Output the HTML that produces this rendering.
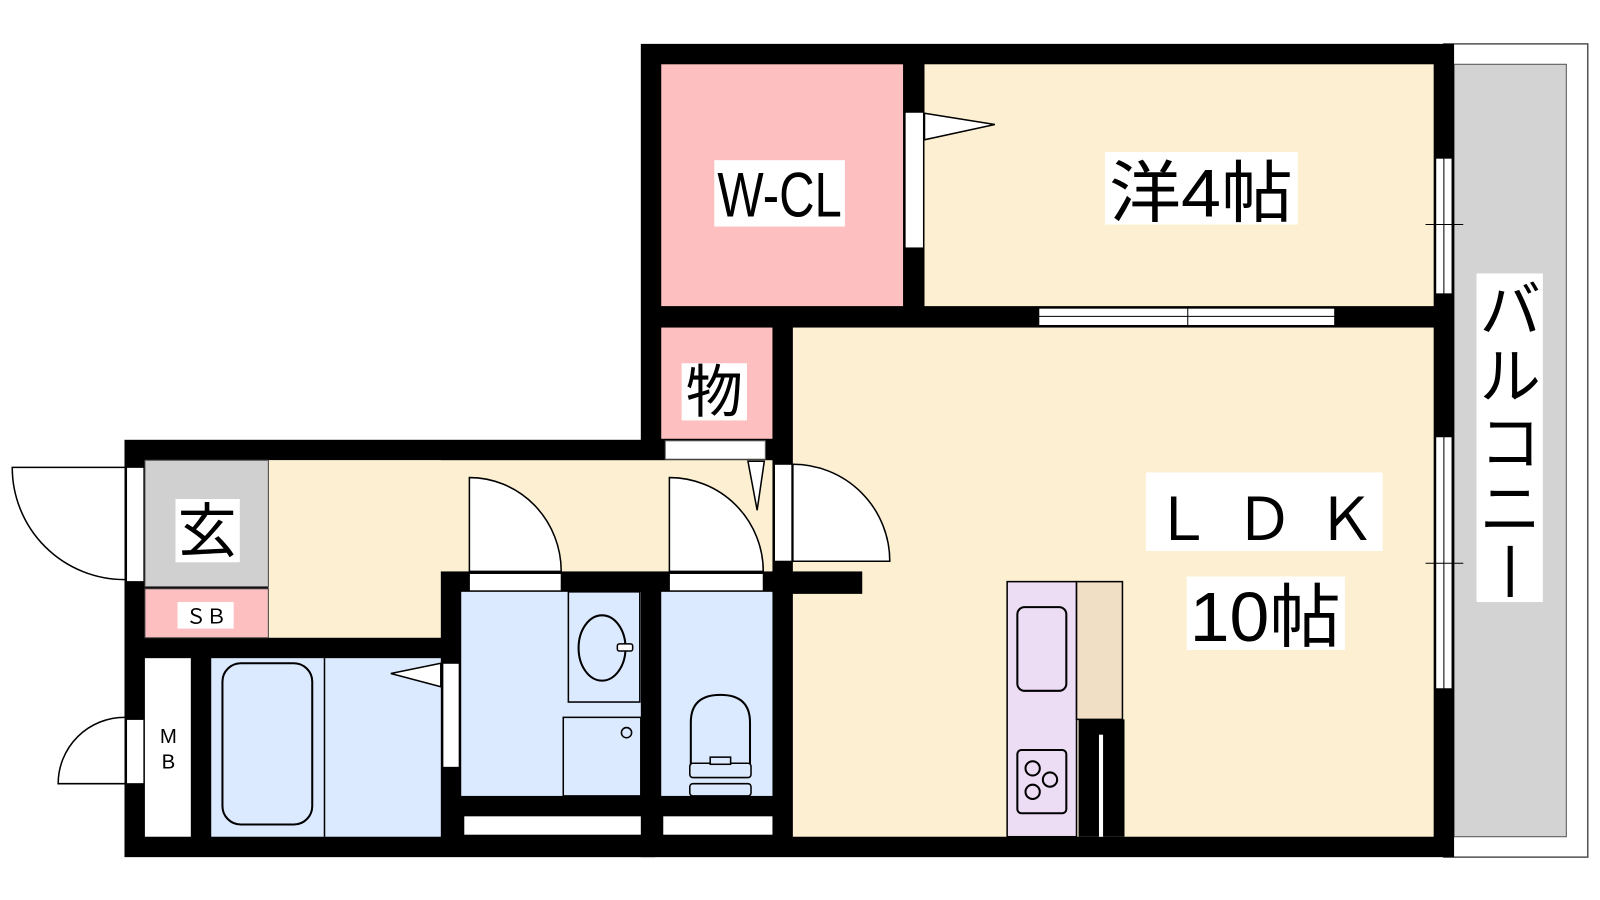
<!DOCTYPE html>
<html><head><meta charset="utf-8"><style>
html,body{margin:0;padding:0;background:#fff;}
svg{display:block}
text{font-family:"Liberation Sans","Noto Sans CJK JP",sans-serif;fill:#000}
</style></head><body>
<svg width="1600" height="900" viewBox="0 0 1568 882" preserveAspectRatio="none" xmlns="http://www.w3.org/2000/svg">
<!-- balcony -->
<rect x="1415" y="43" width="141" height="797" fill="#fff" stroke="#555" stroke-width="1.5"/>
<rect x="1425" y="63" width="110" height="757" fill="#d3d3d3" stroke="#555" stroke-width="1"/>
<!-- black wall base -->
<rect x="628" y="43" width="797" height="797" fill="#000"/>
<rect x="122" y="431" width="520" height="409" fill="#000"/>
<!-- rooms -->
<rect x="648" y="63" width="237" height="237" fill="#fdbfbf"/>
<rect x="906" y="63" width="499" height="237" fill="#fdf0d2"/>
<rect x="648" y="321" width="109" height="109" fill="#fdbfbf"/>
<rect x="777" y="321" width="628" height="499" fill="#fdf0d2"/>
<rect x="263" y="451" width="494" height="109" fill="#fdf0d2"/>
<rect x="263" y="451" width="169" height="174" fill="#fdf0d2"/>
<rect x="142" y="451" width="121" height="124" fill="#d0d0d0" stroke="#444" stroke-width="1"/>
<rect x="142" y="577" width="121" height="48" fill="#fdbfbf" stroke="#444" stroke-width="1"/>
<rect x="142" y="645" width="45" height="175" fill="#fff"/>
<rect x="207" y="645" width="225" height="175" fill="#dbeafe"/>
<line x1="318" y1="645" x2="318" y2="820" stroke="#000" stroke-width="1.5"/>
<rect x="218" y="650" width="88" height="158" rx="18" fill="none" stroke="#000" stroke-width="2"/>
<rect x="452" y="580" width="176" height="200" fill="#dbeafe"/>
<rect x="648" y="580" width="109" height="200" fill="#dbeafe"/>
<rect x="455" y="800" width="173" height="18" fill="#fff"/>
<rect x="650" y="800" width="107" height="18" fill="#fff"/>
<!-- wash fixtures -->
<rect x="557" y="580" width="70" height="108" fill="none" stroke="#000" stroke-width="1.5"/>
<ellipse cx="590" cy="635" rx="23" ry="32" fill="none" stroke="#000" stroke-width="2"/>
<rect x="605" y="631" width="15" height="7" rx="2" fill="#fff" stroke="#000" stroke-width="1.5"/>
<rect x="552" y="703" width="76" height="77" fill="none" stroke="#000" stroke-width="1.5"/>
<circle cx="614" cy="718" r="5" fill="none" stroke="#000" stroke-width="1.5"/>
<!-- toilet -->
<path d="M677 760 V708 Q677 681 706 681 Q735 681 735 708 V760" fill="none" stroke="#000" stroke-width="2"/>
<rect x="676" y="748" width="60" height="14" rx="3" fill="#dbeafe" stroke="#000" stroke-width="1.5"/>
<rect x="696" y="742" width="20" height="7" fill="#dbeafe" stroke="#000" stroke-width="1.5"/>
<rect x="676" y="768" width="60" height="12" rx="3" fill="#dbeafe" stroke="#000" stroke-width="1.5"/>
<!-- kitchen -->
<rect x="987" y="570" width="68" height="250" fill="#ecdcf4" stroke="#000" stroke-width="1.5"/>
<rect x="1055" y="570" width="45" height="135" fill="#f0dfc4" stroke="#000" stroke-width="1.5"/>
<rect x="1057" y="705" width="45" height="115" fill="#000"/>
<rect x="1077" y="720" width="4" height="100" fill="#fff"/>
<rect x="997" y="595" width="48" height="82" rx="7" fill="none" stroke="#000" stroke-width="2"/>
<rect x="997" y="735" width="48" height="62" rx="4" fill="none" stroke="#000" stroke-width="2"/>
<circle cx="1012" cy="753" r="7" fill="none" stroke="#000" stroke-width="2"/>
<circle cx="1029" cy="764" r="7" fill="none" stroke="#000" stroke-width="2"/>
<circle cx="1012" cy="776" r="7" fill="none" stroke="#000" stroke-width="2"/>
<!-- wall stub into LDK -->
<rect x="757" y="560" width="88" height="22" fill="#000"/>
<!-- doors/openings -->
<rect x="887" y="110" width="18" height="133" fill="#fff" stroke="#000" stroke-width="1"/>
<polygon points="906,111 975,122 906,137" fill="#fff" stroke="#000" stroke-width="1.5"/>
<rect x="1018" y="302" width="290" height="17" fill="#fff" stroke="#000" stroke-width="1"/>
<line x1="1018" y1="310" x2="1308" y2="310" stroke="#000" stroke-width="1"/>
<line x1="1164" y1="302" x2="1164" y2="319" stroke="#000" stroke-width="1"/>
<rect x="1407" y="155" width="16" height="133" fill="#fff" stroke="#000" stroke-width="1"/>
<line x1="1415" y1="155" x2="1415" y2="288" stroke="#000" stroke-width="1"/>
<line x1="1397" y1="220" x2="1434" y2="220" stroke="#000" stroke-width="1"/>
<rect x="1407" y="428" width="16" height="247" fill="#fff" stroke="#000" stroke-width="1"/>
<line x1="1415" y1="428" x2="1415" y2="675" stroke="#000" stroke-width="1"/>
<line x1="1397" y1="552" x2="1434" y2="552" stroke="#000" stroke-width="1"/>
<rect x="652" y="432" width="98" height="18" fill="#fff" stroke="#666" stroke-width="1"/>
<polygon points="733,452 749,452 742,500" fill="#fff" stroke="#000" stroke-width="1.5"/>
<!-- LDK door -->
<rect x="759" y="455" width="17" height="95" fill="#fff" stroke="#000" stroke-width="1"/>
<path d="M777 455 A95 95 0 0 1 872 550 L777 550 Z" fill="#fff" stroke="#000" stroke-width="1.5"/>
<!-- wash/toilet doors -->
<rect x="460" y="562" width="90" height="17" fill="#fff" stroke="#000" stroke-width="1"/>
<path d="M460 560 V468 A90 92 0 0 1 550 560 Z" fill="#fff" stroke="#000" stroke-width="1.5"/>
<rect x="656" y="562" width="92" height="17" fill="#fff" stroke="#000" stroke-width="1"/>
<path d="M656 560 V468 A92 92 0 0 1 748 560 Z" fill="#fff" stroke="#000" stroke-width="1.5"/>
<!-- bath door -->
<rect x="434" y="650" width="16" height="102" fill="#fff" stroke="#000" stroke-width="1"/>
<polygon points="432,650 383,660 432,673" fill="#fff" stroke="#000" stroke-width="1.5"/>
<!-- entrance door -->
<rect x="124" y="458" width="17" height="112" fill="#fff" stroke="#000" stroke-width="1"/>
<path d="M122 458 L12 458 A110 110 0 0 0 122 568" fill="#fff" stroke="#000" stroke-width="1.5"/>
<!-- MB door -->
<rect x="124" y="705" width="17" height="63" fill="#fff" stroke="#000" stroke-width="1"/>
<path d="M122 703 A65 65 0 0 0 57 768 L122 768" fill="#fff" stroke="#000" stroke-width="1.5"/>
<!-- labels -->
<rect x="700" y="157" width="128" height="65" fill="#fff"/>
<text x="764" y="212" font-size="62" text-anchor="middle" textLength="122" lengthAdjust="spacingAndGlyphs">W-CL</text>
<rect x="1083" y="149" width="189" height="71" fill="#fff"/>
<text x="1177" y="212" font-size="66" text-anchor="middle" textLength="180" lengthAdjust="spacingAndGlyphs">洋4帖</text>
<rect x="668" y="356" width="64" height="56" fill="#fff"/>
<text x="700" y="404" font-size="56" text-anchor="middle">物</text>
<rect x="172" y="489" width="63" height="62" fill="#fff"/>
<text x="203" y="541" font-size="58" text-anchor="middle">玄</text>
<rect x="174" y="590" width="55" height="26" fill="#fff"/>
<text x="202" y="611" font-size="20" text-anchor="middle">ＳＢ</text>
<text x="165" y="728" font-size="20" text-anchor="middle">M</text>
<text x="165" y="753" font-size="20" text-anchor="middle">B</text>
<rect x="1123" y="463" width="232" height="77" fill="#fff"/>
<text x="1239" y="529" font-size="58" text-anchor="middle" textLength="218" lengthAdjust="spacing">ＬＤＫ</text>
<rect x="1163" y="565" width="155" height="72" fill="#fff"/>
<text x="1240" y="628" font-size="68" text-anchor="middle" textLength="148" lengthAdjust="spacingAndGlyphs">10帖</text>
<rect x="1447" y="268" width="65" height="322" fill="#fff"/>
<text x="1480" y="325" font-size="60" text-anchor="middle">バ</text>
<text x="1480" y="390" font-size="60" text-anchor="middle">ル</text>
<text x="1480" y="455" font-size="60" text-anchor="middle">コ</text>
<text x="1480" y="520" font-size="60" text-anchor="middle">ニ</text>
<line x1="1480" y1="535" x2="1480" y2="585" stroke="#000" stroke-width="5"/>
</svg>
</body></html>
